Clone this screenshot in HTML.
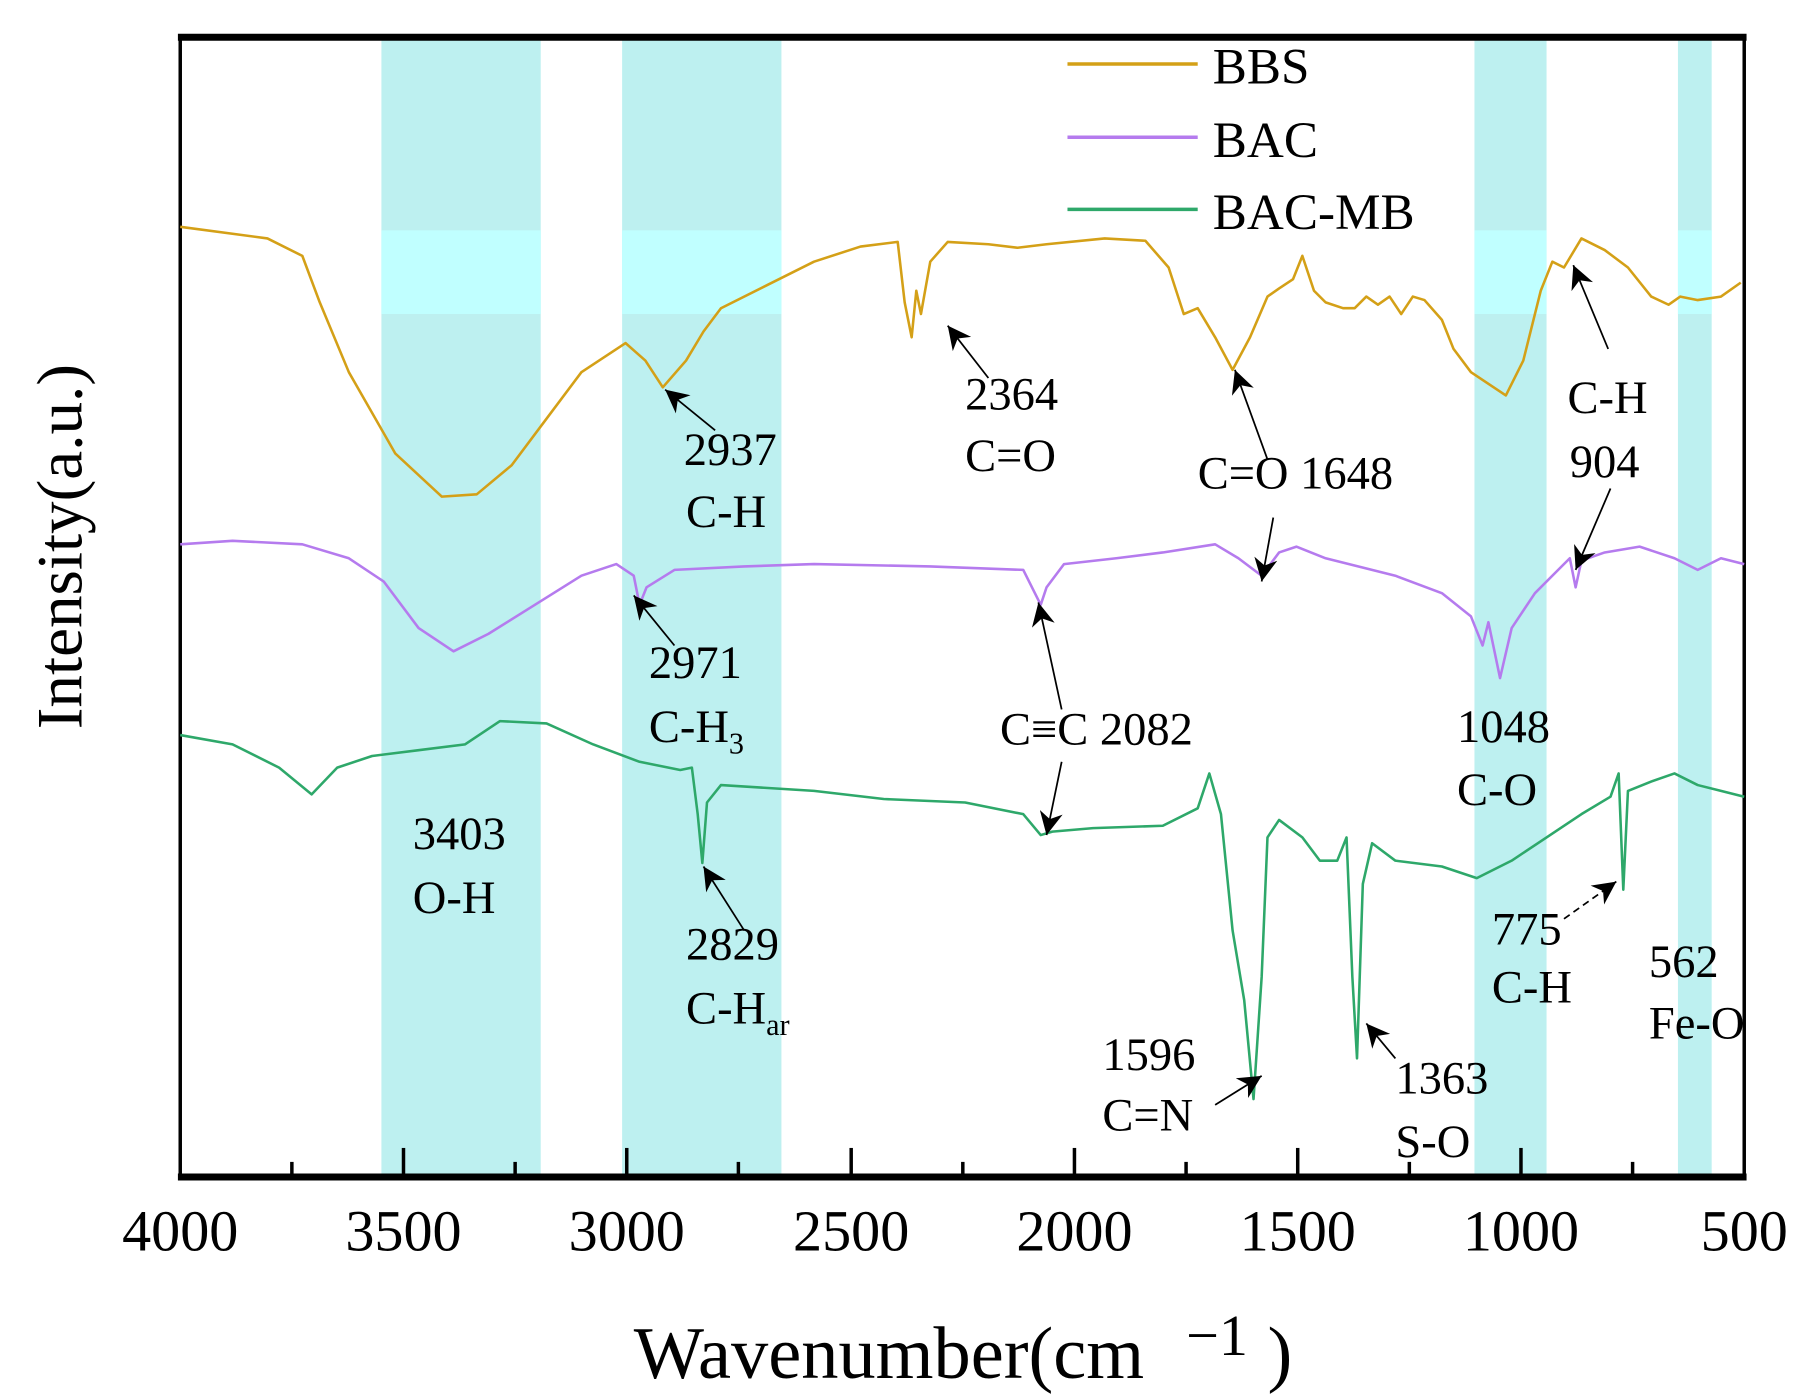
<!DOCTYPE html>
<html><head><style>
html,body{margin:0;padding:0;background:#fff;}
svg{display:block;}
text{font-family:"Liberation Serif",serif;fill:#000;}
</style></head><body>
<svg width="1814" height="1398" viewBox="0 0 1560 1202" preserveAspectRatio="none" xmlns="http://www.w3.org/2000/svg">
<defs>
<marker id="ah" viewBox="0 0 10 10" refX="9" refY="5" markerWidth="7" markerHeight="7" orient="auto-start-reverse" markerUnits="userSpaceOnUse">
<path d="M0,0 L10,5 L0,10 z" fill="#000" transform="scale(1)"/>
</marker>
<marker id="ah2" viewBox="0 0 10 10" refX="10" refY="5" markerWidth="30" markerHeight="20" orient="auto" markerUnits="userSpaceOnUse">
<path d="M0,0 L10,5 L0,10 L3,5 z" fill="#000"/>
</marker>
</defs>
<!-- bands -->
<g fill="#bdf0f0">
<rect x="328" y="30" width="137" height="982"/>
<rect x="535" y="30" width="137" height="982"/>
<rect x="1268" y="30" width="62" height="982"/>
<rect x="1443" y="30" width="29" height="982"/>
</g>
<g fill="#c0ffff">
<rect x="328" y="198" width="137" height="72"/>
<rect x="535" y="198" width="137" height="72"/>
<rect x="1268" y="198" width="62" height="72"/>
<rect x="1443" y="198" width="29" height="72"/>
</g>
<!-- axes box -->
<rect x="155" y="32" width="1345" height="980" fill="none" stroke="#000" stroke-width="3"/>
<line x1="153" y1="32" x2="1502" y2="32" stroke="#000" stroke-width="6"/>
<line x1="153" y1="1012" x2="1502" y2="1012" stroke="#000" stroke-width="6"/>
<g stroke="#000" stroke-width="3">
<line x1="347" y1="1012" x2="347" y2="987"/><line x1="539" y1="1012" x2="539" y2="987"/>
<line x1="732" y1="1012" x2="732" y2="987"/><line x1="924" y1="1012" x2="924" y2="987"/>
<line x1="1116" y1="1012" x2="1116" y2="987"/><line x1="1308" y1="1012" x2="1308" y2="987"/>
<line x1="251" y1="1012" x2="251" y2="999"/><line x1="443" y1="1012" x2="443" y2="999"/>
<line x1="635" y1="1012" x2="635" y2="999"/><line x1="828" y1="1012" x2="828" y2="999"/>
<line x1="1020" y1="1012" x2="1020" y2="999"/><line x1="1212" y1="1012" x2="1212" y2="999"/>
<line x1="1404" y1="1012" x2="1404" y2="999"/>
</g>
<g font-size="50" text-anchor="middle">
<text x="155" y="1075">4000</text><text x="347" y="1075">3500</text><text x="539" y="1075">3000</text>
<text x="732" y="1075">2500</text><text x="924" y="1075">2000</text><text x="1116" y="1075">1500</text>
<text x="1308" y="1075">1000</text><text x="1500" y="1075">500</text>
</g>
<text x="545" y="1185" font-size="64">Wavenumber(cm</text>
<text x="1020" y="1165" font-size="50">−1</text>
<text x="1090" y="1185" font-size="64">)</text>
<text transform="translate(70,470) rotate(-90)" font-size="56" text-anchor="middle">Intensity(a.u.)</text>
<!-- legend -->
<g stroke-width="3">
<line x1="918" y1="55" x2="1030" y2="55" stroke="#d4a017"/>
<line x1="918" y1="118" x2="1030" y2="118" stroke="#b57bee"/>
<line x1="918" y1="180" x2="1030" y2="180" stroke="#2ea86a"/>
</g>
<g font-size="44">
<text x="1043" y="72">BBS</text><text x="1043" y="135">BAC</text><text x="1043" y="197">BAC-MB</text>
</g>
<!-- curves -->
<g fill="none" stroke-width="2.2" stroke-linejoin="round">
<polyline stroke="#d4a017" points="155,195 230,205 260,220 275,260 300,320 340,390 380,427 410,425 440,400 470,360 500,320 538,295 555,310 570,333 590,310 605,285 620,265 660,245 700,225 740,212 772,208 778,260 784,290 788,250 792,270 800,225 815,208 850,210 875,213 900,210 950,205 985,207 1005,230 1018,270 1030,265 1045,290 1060,318 1075,290 1090,255 1100,248 1112,240 1120,220 1130,250 1140,260 1155,265 1165,265 1175,255 1185,262 1195,255 1205,270 1215,255 1225,258 1240,275 1250,300 1265,320 1280,330 1295,340 1310,310 1325,250 1335,225 1345,230 1360,205 1380,215 1400,230 1420,255 1435,262 1445,255 1460,258 1480,255 1497,243"/>
<polyline stroke="#b57bee" points="155,468 200,465 260,468 300,480 330,500 360,540 390,560 420,545 460,520 500,495 530,485 545,495 550,520 556,505 580,490 640,487 700,485 800,487 880,490 890,510 895,520 900,505 915,485 960,480 1000,475 1045,468 1065,480 1085,495 1100,475 1115,470 1140,480 1200,495 1240,510 1265,530 1275,555 1280,535 1290,583 1300,540 1320,510 1340,490 1350,480 1355,505 1360,482 1380,475 1410,470 1440,480 1460,490 1480,480 1500,485"/>
<polyline stroke="#2ea86a" points="155,632 200,640 240,660 268,683 290,660 320,650 360,645 400,640 430,620 470,622 510,640 550,655 585,662 595,660 600,700 604,742 608,690 620,675 700,680 760,687 830,690 880,700 895,718 905,715 940,712 1000,710 1030,695 1040,665 1050,700 1060,800 1070,860 1078,945 1085,840 1090,720 1100,705 1120,720 1135,740 1150,740 1158,720 1163,840 1167,910 1172,760 1180,725 1200,740 1240,745 1270,755 1300,740 1330,720 1360,700 1385,685 1392,665 1396,765 1400,680 1420,672 1440,665 1460,675 1480,680 1500,685"/>
</g>
<!-- arrows -->
<g stroke="#000" stroke-width="1.5" marker-end="url(#ah2)">
<line x1="850" y1="325" x2="815" y2="280"/>
<line x1="615" y1="370" x2="572" y2="335"/>
<line x1="1090" y1="395" x2="1062" y2="318"/>
<line x1="1383" y1="300" x2="1353" y2="228"/>
<line x1="580" y1="555" x2="545" y2="512"/>
<line x1="913" y1="610" x2="893" y2="518"/>
<line x1="913" y1="655" x2="900" y2="718"/>
<line x1="1385" y1="420" x2="1355" y2="490"/>
<line x1="1095" y1="445" x2="1085" y2="500"/>
<line x1="640" y1="800" x2="605" y2="745"/>
<line x1="1345" y1="790" x2="1390" y2="758" stroke-dasharray="6,4"/>
<line x1="1045" y1="950" x2="1085" y2="925"/>
<line x1="1200" y1="910" x2="1175" y2="880"/>
</g>
<!-- labels -->
<g font-size="40">
<text x="830" y="352">2364</text><text x="830" y="405">C=O</text>
<text x="588" y="400">2937</text><text x="590" y="453">C-H</text>
<text x="1030" y="420">C=O 1648</text>
<text x="1348" y="355">C-H</text><text x="1350" y="410">904</text>
<text x="558" y="583">2971</text><text x="558" y="638">C-H<tspan font-size="26" dy="10">3</tspan></text>
<text x="860" y="640">C≡C 2082</text>
<text x="1253" y="638">1048</text><text x="1253" y="692">C-O</text>
<text x="355" y="730">3403</text><text x="355" y="785">O-H</text>
<text x="590" y="825">2829</text><text x="590" y="880">C-H<tspan font-size="26" dy="10">ar</tspan></text>
<text x="1283" y="812">775</text><text x="1283" y="862">C-H</text>
<text x="1418" y="840">562</text><text x="1418" y="893">Fe-O</text>
<text x="948" y="920">1596</text><text x="948" y="972">C=N</text>
<text x="1200" y="940">1363</text><text x="1200" y="995">S-O</text>
</g>
</svg>
</body></html>
